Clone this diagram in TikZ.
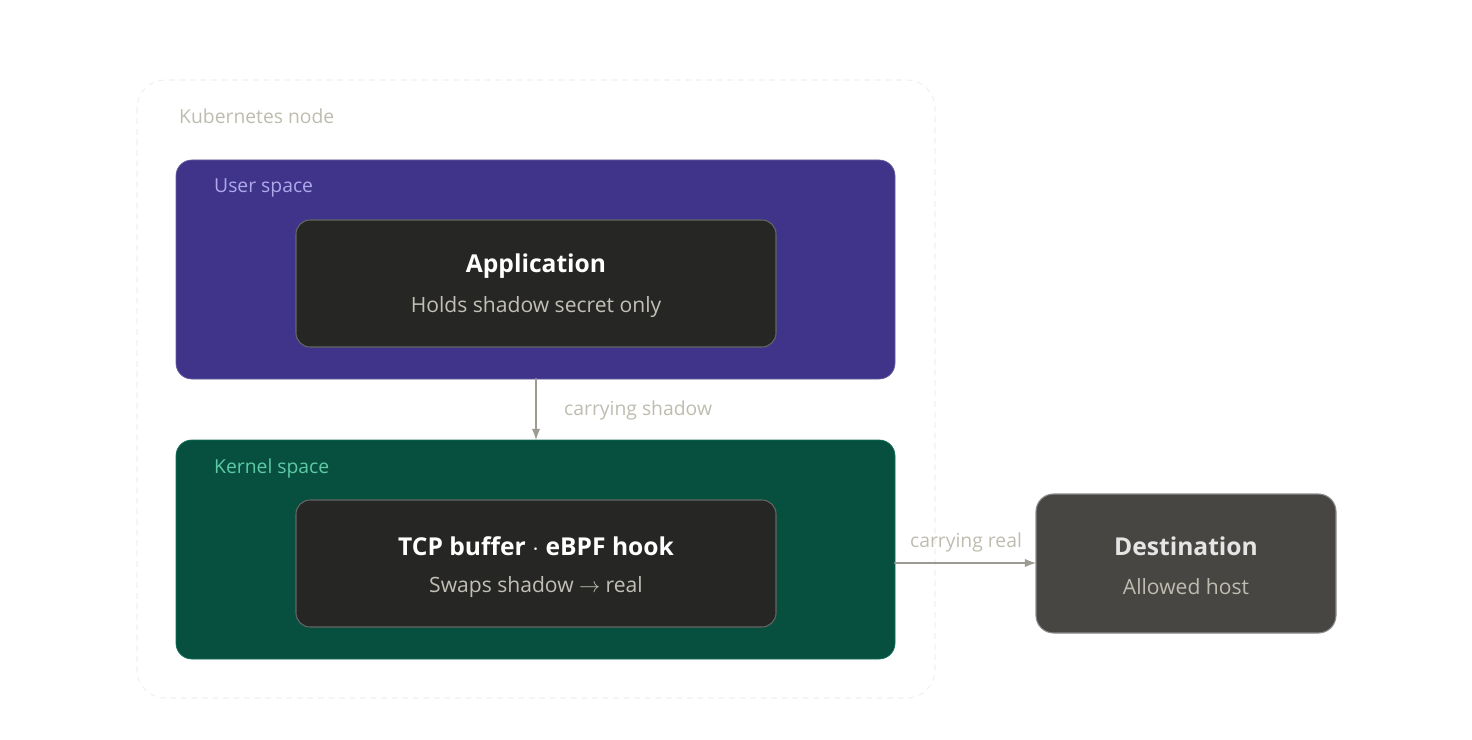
\documentclass[tikz,border=0pt]{standalone}
\usepackage{fontspec}
\setmainfont{Open Sans}
\usetikzlibrary{positioning}
\definecolor{usrfill}{HTML}{3F3489}
\definecolor{usrtxt}{HTML}{AFA9EC}
\definecolor{krnfill}{HTML}{07503F}
\definecolor{krnline}{HTML}{0F6E56}
\definecolor{krntxt}{HTML}{5DCAA5}
\definecolor{boxfill}{HTML}{262624}
\definecolor{dstfill}{HTML}{474643}
\definecolor{subtxt}{HTML}{C2C0B6}
\definecolor{lbltxt}{HTML}{BEBCAF}
\definecolor{arrcol}{HTML}{9C9A92}
\tikzstyle{every node}=[font=\fontsize{11}{13}\selectfont]
\tikzstyle{every path}=[line cap=round,line join=round]
\begin{document}
\begin{tikzpicture}[x=0.02cm,y=-0.02cm,
  inner/.style={draw=black!60!white,fill=boxfill,rounded corners=8pt,line width=0.6pt},
  ttl/.style={font=\fontsize{14}{16}\selectfont\bfseries},
  sub/.style={font=\fontsize{12}{14}\selectfont,text=subtxt},
  flow/.style={-latex,draw=arrcol,line width=1.2pt}]
\useasboundingbox (0,0) rectangle (1472,740);

% outer group
\draw [dashed,draw=black!6,rounded corners=16pt,line width=0.6pt] (137,80) rectangle (935,698);
\node [anchor=west,text=lbltxt] (k8s) at (173,116) {Kubernetes node};

% user space
\draw [fill=usrfill,draw=usrfill!80!white,rounded corners=9pt] (176,160) rectangle (895,379);
\node [anchor=west,text=usrtxt] at (208,188) {User space};
\draw [inner] (296,220) rectangle (776,347);
\node [ttl,text=white] (app) at (536,266) {Application};
\node [sub] at (536,307) {Holds shadow secret only};
\coordinate (usrbot) at (536,379);

% kernel space
\draw [fill=krnfill,draw=krnline,rounded corners=9pt] (176,440) rectangle (895,659);
\node [anchor=west,text=krntxt] at (208,468) {Kernel space};
\draw [inner] (296,500) rectangle (776,627);
\node [ttl,text=white] (tcp) at (536,546) {TCP buffer $\cdot$ eBPF hook};
\node [sub] at (536,587) {Swaps shadow $\rightarrow$ real};
\coordinate (krntop) at (536,440);
\coordinate (krnright) at (895,563);

% destination
\draw [fill=dstfill,draw=black!45!white,rounded corners=10pt,line width=0.6pt] (1036,494) rectangle (1336,633);
\node [ttl,text=black!10!white] (dst) at (1186,546) {Destination};
\node [sub,text=lbltxt] at (1186,587) {Allowed host};
\coordinate (dstleft) at (1036,563);

\draw [flow] (usrbot) -- (krntop);
\node [anchor=west,text=lbltxt] at (558,410) {carrying shadow};
\draw [flow] (krnright) -- (dstleft);
\node [text=lbltxt] at (966,542) {carrying real};
\end{tikzpicture}
\end{document}
